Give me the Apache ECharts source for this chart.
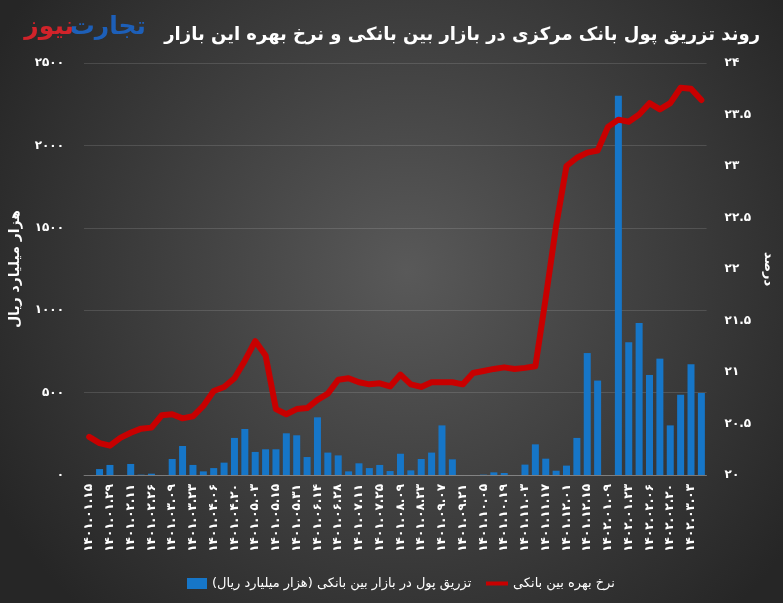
<!DOCTYPE html>
<html>
<head>
<meta charset="utf-8">
<script src="https://cdn.jsdelivr.net/npm/echarts@6/dist/echarts.min.js"></script>
<style>
html,body{margin:0;padding:0;background:#333;}
#chart{width:783px;height:603px;}
</style>
</head>
<body>
<div id="chart"></div>
<script>
// ---- data ----
var categories = [
  '1401.01.15','1401.01.22','1401.01.29','1401.02.05','1401.02.11','1401.02.18','1401.02.26','1401.03.02',
  '1401.03.09','1401.03.16','1401.03.23','1401.03.30','1401.04.06','1401.04.13','1401.04.20','1401.04.27',
  '1401.05.03','1401.05.09','1401.05.15','1401.05.23','1401.05.31','1401.06.07','1401.06.14','1401.06.21',
  '1401.06.28','1401.07.04','1401.07.11','1401.07.18','1401.07.25','1401.08.02','1401.08.09','1401.08.16',
  '1401.08.23','1401.08.30','1401.09.07','1401.09.14','1401.09.21','1401.09.28','1401.10.05','1401.10.12',
  '1401.10.19','1401.10.26','1401.11.03','1401.11.10','1401.11.17','1401.11.24','1401.12.01','1401.12.08',
  '1401.12.15','1401.12.22','1402.01.09','1402.01.16','1402.01.23','1402.01.30','1402.02.06','1402.02.13',
  '1402.02.20','1402.02.27','1402.03.03','1402.03.10'
];
var injection = [
  0,36,61,0,67,2,8,0,97,176,61,22,42,75,225,279,140,156,156,253,241,109,350,136,119,22,71,42,61,24,
  129,28,97,136,301,95,0,0,2,16,12,0,63,186,99,26,57,225,740,573,0,2302,805,922,607,706,301,487,672,498
];
var rate = [
  20.37,20.31,20.285,20.36,20.41,20.45,20.46,20.58,20.59,20.55,20.57,20.67,20.815,20.855,20.94,21.11,
  21.30,21.16,20.64,20.59,20.64,20.65,20.73,20.79,20.925,20.94,20.90,20.88,20.89,20.86,20.975,20.88,
  20.855,20.90,20.90,20.90,20.88,20.99,21.01,21.03,21.045,21.03,21.04,21.055,21.72,22.42,23.0,23.08,
  23.13,23.15,23.38,23.45,23.43,23.50,23.61,23.55,23.61,23.76,23.75,23.64
];
var leftTicks = [0, 500, 1000, 1500, 2000, 2500];
var rightTicks = [20, 20.5, 21, 21.5, 22, 22.5, 23, 23.5, 24];
var titleText = 'روند تزریق پول بانک مرکزی در بازار بین بانکی و نرخ بهره این بازار';
var barName = 'تزریق پول در بازار بین بانکی (هزار میلیارد ریال)';
var lineName = 'نرخ بهره بین بانکی';
var leftAxisName = 'هزار میلیارد ریال';
var rightAxisName = 'درصد';

// ---- helpers ----
var FA = '۰۱۲۳۴۵۶۷۸۹';
function toFa(s){ return String(s).replace(/\d/g, function(d){ return FA[+d]; }); }
var FONT = '"DejaVu Sans", sans-serif';

var chart = echarts.init(document.getElementById('chart'));
chart.setOption({
  backgroundColor: {
    type: 'radial', x: 0.52, y: 0.45, r: 0.78,
    colorStops: [{offset: 0, color: '#595959'}, {offset: 1, color: '#262626'}]
  },
  animation: false,
  textStyle: {fontFamily: FONT},
  title: {
    text: titleText, right: 18, top: 21,
    textStyle: {color: '#ffffff', fontSize: 18, fontWeight: 'bold', fontFamily: FONT}
  },
  graphic: [
    {type: 'text', right: 783 - 146, top: 15, style: {text: 'تجارت', fill: '#1d5fb8', font: 'bold 25px ' + FONT}},
    {type: 'text', right: 783 - 74, top: 15, style: {text: 'نیوز', fill: '#d1232a', font: 'bold 25px ' + FONT}}
  ],
  legend: [
    {
      data: [{name: barName, icon: 'rect'}], left: 182, top: 572,
      itemWidth: 20, itemHeight: 11, itemGap: 4,
      textStyle: {color: '#ffffff', fontSize: 13, fontFamily: FONT}
    },
    {
      data: [{name: lineName, icon: 'rect'}], left: 481, top: 572,
      itemWidth: 22, itemHeight: 4, itemGap: 4,
      textStyle: {color: '#ffffff', fontSize: 13, fontFamily: FONT}
    }
  ],
  grid: {left: 83, right: 69, top: 63, bottom: 128},
  xAxis: {
    type: 'category', data: categories,
    axisTick: {show: false},
    axisLine: {lineStyle: {color: 'rgba(255,255,255,0.25)'}},
    axisLabel: {
      rotate: 90, interval: 1, color: '#ffffff', fontSize: 12, fontWeight: 'bold', margin: 9,
      fontFamily: FONT, formatter: function(v){ return toFa(v); }
    }
  },
  yAxis: [
    {
      type: 'value', min: leftTicks[0], max: leftTicks[leftTicks.length - 1], interval: 500, position: 'left',
      name: leftAxisName, nameLocation: 'middle', nameRotate: 90, nameGap: 62,
      nameTextStyle: {color: '#ffffff', fontSize: 14, fontWeight: 'bold', fontFamily: FONT},
      axisLabel: {color: '#ffffff', fontSize: 12, fontWeight: 'bold', margin: 20, fontFamily: FONT,
        formatter: function(v){ return toFa(v); }},
      axisLine: {show: false}, axisTick: {show: false},
      splitLine: {lineStyle: {color: 'rgba(255,255,255,0.13)'}}
    },
    {
      type: 'value', min: rightTicks[0], max: rightTicks[rightTicks.length - 1], interval: 0.5, position: 'right',
      name: rightAxisName, nameLocation: 'middle', nameRotate: -90, nameGap: 50,
      nameTextStyle: {color: '#ffffff', fontSize: 13, fontWeight: 'bold', fontFamily: FONT},
      axisLabel: {color: '#ffffff', fontSize: 12, fontWeight: 'bold', margin: 18, fontFamily: FONT,
        formatter: function(v){ return toFa(v); }},
      axisLine: {show: false}, axisTick: {show: false},
      splitLine: {show: false}
    }
  ],
  series: [
    {
      name: barName, type: 'bar', yAxisIndex: 0, data: injection, barWidth: 7,
      itemStyle: {color: '#1676c8'}
    },
    {
      name: lineName, type: 'line', yAxisIndex: 1, data: rate, symbol: 'none', smooth: false, z: 5,
      lineStyle: {color: '#c80000', width: 6, join: 'round', cap: 'round'},
      itemStyle: {color: '#c80000'}
    }
  ]
});
</script>
</body>
</html>
